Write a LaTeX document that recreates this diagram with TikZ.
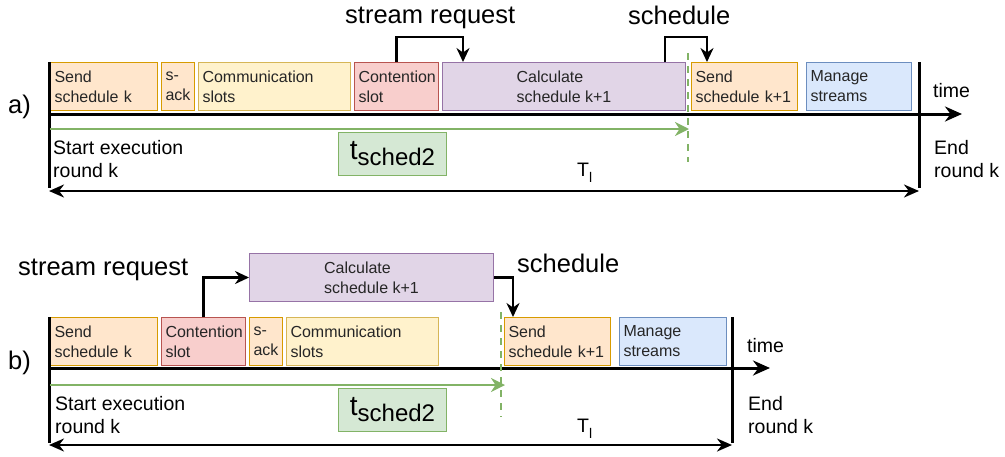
\documentclass[tikz,border=0pt]{standalone}
\usepackage{fontspec}
\setmainfont{Liberation Sans}
\usetikzlibrary{positioning,arrows.meta}

\definecolor{orangefill}{HTML}{FFE6CC}
\definecolor{orangedraw}{HTML}{D79B00}
\definecolor{yellowfill}{HTML}{FFF2CC}
\definecolor{yellowdraw}{HTML}{D6B656}
\definecolor{redfill}{HTML}{F8CECC}
\definecolor{reddraw}{HTML}{B85450}
\definecolor{purplefill}{HTML}{E1D5E7}
\definecolor{purpledraw}{HTML}{9673A6}
\definecolor{bluefill}{HTML}{DAE8FC}
\definecolor{bluedraw}{HTML}{6C8EBF}
\definecolor{greenfill}{HTML}{D5E8D4}
\definecolor{greendraw}{HTML}{82B366}

\newcommand{\tsched}{{\fontsize{28}{30}\selectfont t\raisebox{-6pt}{\fontsize{24}{26}\selectfont sched2}}}
\newcommand{\tlround}{T\raisebox{-6pt}{\fontsize{14}{14}\selectfont l}}

\begin{document}
\begin{tikzpicture}[x=1pt,y=-1pt,
    slot/.style={draw, rectangle, minimum height=48pt, inner xsep=4pt, inner ysep=0pt, align=left, text=black!85, font=\fontsize{16}{20}\selectfont, line width=1pt},
    sendslot/.style={slot, fill=orangefill, draw=orangedraw},
    commslot/.style={slot, fill=yellowfill, draw=yellowdraw},
    contslot/.style={slot, fill=redfill, draw=reddraw},
    calcslot/.style={slot, fill=purplefill, draw=purpledraw},
    manslot/.style={slot, fill=bluefill, draw=bluedraw},
    bigtext/.style={font=\fontsize{25.5}{30}\selectfont, inner sep=0pt},
    note/.style={font=\fontsize{19.5}{23}\selectfont, align=left, inner sep=0pt},
    timeaxis/.style={line width=3pt, -{Stealth[length=17pt,width=15pt]}},
    roundbar/.style={line width=3pt},
    tlspan/.style={line width=2.5pt, {Stealth[length=15pt,width=13pt]}-{Stealth[length=15pt,width=13pt]}},
    flow/.style={line width=2.5pt, -{Stealth[length=14pt,width=13pt]}},
    tarrow/.style={line width=2.5pt, draw=greendraw, -{Stealth[length=14pt,width=14pt]}},
    deadline/.style={line width=2.5pt, draw=greendraw, dash pattern=on 7pt off 6pt},
    tbox/.style={draw=greendraw, fill=greenfill, line width=1pt, minimum width=108pt, minimum height=43pt, inner sep=0pt}
]
\useasboundingbox (0,0) rectangle (1005,456);

% a) schedule calculated after the contention slot
\node[bigtext, anchor=west] (labA) at (8,107) {a)};
\node[sendslot, text width=99pt, anchor=north west] (sendA) at (50,62) {Send\\schedule k};
\node[sendslot, text width=25pt, right=3pt of sendA] (sackA) {s-\\ack};
\node[commslot, text width=144pt, right=3pt of sackA] (commA) {Communication\\slots};
\node[contslot, text width=76pt, right=3pt of commA] (contA) {Contention\\slot};
\node[calcslot, minimum width=243pt, right=3pt of contA] (calcA) {Calculate\\schedule k+1};
\node[sendslot, text width=98pt, anchor=north west] (nextA) at (691,62) {Send\\schedule k+1};
\node[manslot, text width=97pt, anchor=north west] (manA) at (806,62) {Manage\\streams};

\coordinate (startA) at (49,62);
\coordinate (startlowA) at (49,188);
\coordinate (endA) at (919,62);
\coordinate (endlowA) at (919,188);
\coordinate (axisA) at (49,114);
\coordinate (axistipA) at (962,114);
\draw[roundbar] (startA) -- (startlowA);
\draw[roundbar] (endA) -- (endlowA);
\draw[timeaxis] (axisA) -- (axistipA);
\node[note, anchor=base west] (timeA) at (933,97) {time};

\coordinate (gstartA) at (50,129);
\coordinate (gendA) at (689,129);
\coordinate (dtopA) at (688,53);
\coordinate (dlowA) at (688,162);
\draw[deadline] (dtopA) -- (dlowA);
\draw[tarrow] (gstartA) -- (gendA);
\node[tbox, anchor=north west] (tA) at (338,132) {\tsched};

\node[note, anchor=west] (beginA) at (53,159) {Start execution\\round k};
\node[note, anchor=west] (finA) at (934,159) {End\\round k};
\node[note, anchor=base west] (TlA) at (577,176) {\tlround};
\draw[tlspan] (49,191) coordinate (spanlA) -- (919,191) coordinate (spanrA);

\node[bigtext, anchor=base west] (reqA) at (345,23) {stream request};
\node[bigtext, anchor=base west] (schedA) at (628,24) {schedule};
\draw[flow] (contA.north) -- ++(0,-25) -| ([xshift=21pt]calcA.north west);
\draw[flow] ([xshift=-21pt]calcA.north east) -- ++(0,-25) -| ([xshift=16pt]nextA.north west);

% b) schedule calculated in parallel
\node[bigtext, anchor=west] (labB) at (8,363) {b)};
\node[sendslot, text width=99pt, anchor=north west] (sendB) at (50,317) {Send\\schedule k};
\node[contslot, text width=76pt, right=3pt of sendB] (contB) {Contention\\slot};
\node[sendslot, text width=25pt, right=3pt of contB] (sackB) {s-\\ack};
\node[commslot, text width=144pt, right=3pt of sackB] (commB) {Communication\\slots};
\node[calcslot, minimum width=244pt, anchor=north west] (calcB) at (249,253) {Calculate\\schedule k+1};
\node[sendslot, text width=98pt, anchor=north west] (nextB) at (504,317) {Send\\schedule k+1};
\node[manslot, text width=99pt, anchor=north west] (manB) at (619,317) {Manage\\streams};

\coordinate (startB) at (49,317);
\coordinate (startlowB) at (49,443);
\coordinate (endB) at (732,317);
\coordinate (endlowB) at (732,443);
\coordinate (axisB) at (49,368);
\coordinate (axistipB) at (770,368);
\draw[roundbar] (startB) -- (startlowB);
\draw[roundbar] (endB) -- (endlowB);
\draw[timeaxis] (axisB) -- (axistipB);
\node[note, anchor=base west] (timeB) at (747,352) {time};

\coordinate (gstartB) at (50,385);
\coordinate (gendB) at (505,385);
\coordinate (dtopB) at (501,312);
\coordinate (dlowB) at (501,417);
\draw[deadline] (dtopB) -- (dlowB);
\draw[tarrow] (gstartB) -- (gendB);
\node[tbox, anchor=north west] (tB) at (338,388) {\tsched};

\node[note, anchor=west] (beginB) at (55,415) {Start execution\\round k};
\node[note, anchor=west] (finB) at (748,415) {End\\round k};
\node[note, anchor=base west] (TlB) at (577,432) {\tlround};
\draw[tlspan] (49,445) coordinate (spanlB) -- (732,445) coordinate (spanrB);

\node[bigtext, anchor=base west] (reqB) at (18,275) {stream request};
\node[bigtext, anchor=base west] (schedB) at (517,272) {schedule};
\draw[flow] (contB.north) |- (calcB.west);
\draw[flow] (calcB.east) -| ([xshift=9pt]nextB.north west);
\end{tikzpicture}
\end{document}
